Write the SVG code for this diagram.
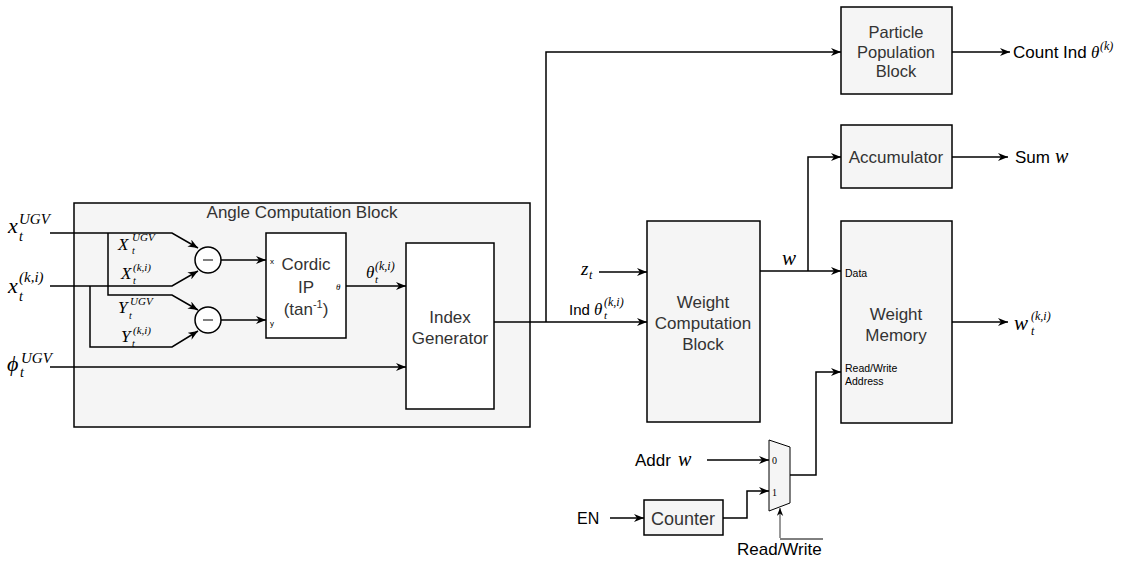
<svg xmlns="http://www.w3.org/2000/svg" width="1127" height="561" viewBox="0 0 1127 561">
<defs>
<marker id="a" viewBox="0 0 10 8" refX="10" refY="4" markerWidth="10" markerHeight="8" markerUnits="userSpaceOnUse" orient="auto"><path d="M0,0 L10,4 L0,8 L3,4 z" fill="#000"/></marker>
<marker id="b" viewBox="0 0 10 8" refX="10" refY="4" markerWidth="8" markerHeight="7" markerUnits="userSpaceOnUse" orient="auto"><path d="M0,0 L10,4 L0,8 L3,4 z" fill="#000"/></marker>
</defs>
<style>
.box{fill:#f5f5f5;stroke:#000;stroke-width:1.5}
.wbox{fill:#fff;stroke:#000;stroke-width:1.5}
.t{font-family:"Liberation Sans",Arial,sans-serif;font-size:17px;fill:#333;text-anchor:middle}
.s{font-family:"Liberation Sans",Arial,sans-serif;font-size:10.5px;fill:#000}
.l{font-family:"Liberation Sans",Arial,sans-serif;font-size:17px;fill:#000}
.m{font-family:"Liberation Serif","Times New Roman",serif;font-style:italic;fill:#000}
.n{font-family:"Liberation Serif","Times New Roman",serif;font-size:10px;fill:#000}
.c{fill:none;stroke:#000;stroke-width:1.5}
</style>

<g id="angle-block">
<rect class="box" x="74" y="203" width="456" height="224"/>
<text class="t" x="302" y="218">Angle Computation Block</text>
</g>

<g id="sub1">
<circle cx="208" cy="260" r="13" fill="#fff" stroke="#000" stroke-width="1.5"/>
<line x1="203" y1="260" x2="213" y2="260" stroke="#000" stroke-width="1"/>
</g>
<g id="sub2">
<circle cx="208" cy="320" r="13" fill="#fff" stroke="#000" stroke-width="1.5"/>
<line x1="203" y1="320" x2="213" y2="320" stroke="#000" stroke-width="1"/>
</g>

<g id="cordic">
<rect class="wbox" x="266" y="233" width="80" height="105"/>
<text class="t" x="306" y="270">Cordic</text>
<text class="t" x="306" y="293">IP</text>
<text class="t" x="306" y="315">(tan<tspan style="font-size:11px" dy="-7">-1</tspan><tspan dy="7">)</tspan></text>
<text class="s" x="270" y="264" style="font-size:8px">x</text>
<text class="s" x="270" y="326" style="font-size:8px">y</text>
<text class="m" x="336" y="290" font-size="9">θ</text>
</g>

<g id="index-generator">
<rect class="wbox" x="406" y="243" width="88" height="166"/>
<text class="t" x="450" y="323">Index</text>
<text class="t" x="450" y="344">Generator</text>
</g>

<g id="particle-population">
<rect class="box" x="841" y="7" width="111" height="87"/>
<text class="t" x="896" y="38" style="font-size:16.5px">Particle</text>
<text class="t" x="896" y="58" style="font-size:16.5px">Population</text>
<text class="t" x="896" y="77" style="font-size:16.5px">Block</text>
</g>

<g id="accumulator">
<rect class="box" x="841" y="125" width="111" height="63"/>
<text class="t" x="896" y="163">Accumulator</text>
</g>

<g id="weight-computation">
<rect class="box" x="647" y="221" width="113" height="201"/>
<text class="t" x="703" y="308">Weight</text>
<text class="t" x="703" y="329">Computation</text>
<text class="t" x="703" y="350">Block</text>
</g>

<g id="weight-memory">
<rect class="box" x="841" y="221" width="111" height="202"/>
<text class="t" x="896" y="320">Weight</text>
<text class="t" x="896" y="341">Memory</text>
<text class="s" x="845" y="277">Data</text>
<text class="s" x="845" y="372">Read/Write</text>
<text class="s" x="845" y="385">Address</text>
</g>

<g id="counter">
<rect class="box" x="644" y="500" width="79" height="35"/>
<text class="t" x="683" y="525" style="font-size:18px">Counter</text>
</g>

<g id="mux">
<polygon points="769,440 790,447 790,503 769,511" fill="#f5f5f5" stroke="#000" stroke-width="1"/>
<text class="n" x="772" y="464">0</text>
<text class="n" x="772" y="496">1</text>
</g>

<g id="connectors">
<path class="c" d="M50,233 H172 L198,248" marker-end="url(#a)"/>
<path class="c" d="M108,233 V295 H172 L198,310" marker-end="url(#a)"/>
<path class="c" d="M50,286 H172 L198,271" marker-end="url(#a)"/>
<path class="c" d="M90,286 V347 H172 L198,331" marker-end="url(#a)"/>
<path class="c" d="M221,260 H266" marker-end="url(#a)"/>
<path class="c" d="M221,320 H266" marker-end="url(#a)"/>
<path class="c" d="M346,286 H406" marker-end="url(#a)"/>
<path class="c" d="M50,367 H406" marker-end="url(#a)"/>
<path class="c" d="M494,322 H647" marker-end="url(#a)"/>
<path class="c" d="M546,322 V52 H841" marker-end="url(#a)"/>
<path class="c" d="M952,52 H1010" marker-end="url(#a)"/>
<path class="c" d="M599,272 H647" marker-end="url(#a)"/>
<path class="c" d="M760,271 H841" marker-end="url(#a)"/>
<path class="c" d="M808,271 V157 H841" marker-end="url(#a)"/>
<path class="c" d="M952,157 H1008" marker-end="url(#a)"/>
<path class="c" d="M952,322 H1008" marker-end="url(#a)"/>
<path class="c" d="M707,460 H769" marker-end="url(#a)"/>
<path class="c" d="M610,518 H644" marker-end="url(#a)"/>
<path class="c" d="M723,518 H747 V491 H769" marker-end="url(#a)"/>
<path class="c" d="M790,475 H816 V372 H841" marker-end="url(#a)"/>
<path d="M780,538 V508" fill="none" stroke="#333" stroke-width="1" marker-end="url(#b)"/>
</g>

<g id="labels">
<text class="m" x="8" y="233" font-size="22">x</text>
<text class="m" x="19" y="241" font-size="14">t</text>
<text class="m" x="19" y="224" font-size="15">UGV</text>

<text class="m" x="8" y="293" font-size="22">x</text>
<text class="m" x="19" y="301" font-size="14">t</text>
<text class="m" x="19" y="282" font-size="15">(k,i)</text>

<text class="m" x="7" y="371" font-size="22">ϕ</text>
<text class="m" x="20" y="377" font-size="14">t</text>
<text class="m" x="21" y="363" font-size="15">UGV</text>

<text class="m" x="118" y="250" font-size="17">X</text>
<text class="m" x="132" y="254" font-size="10">t</text>
<text class="m" x="132" y="241" font-size="11">UGV</text>

<text class="m" x="121" y="279" font-size="17">X</text>
<text class="m" x="133" y="284" font-size="10">t</text>
<text class="m" x="133" y="271" font-size="11">(k,i)</text>

<text class="m" x="118" y="313" font-size="17">Y</text>
<text class="m" x="129" y="319" font-size="10">t</text>
<text class="m" x="130" y="305" font-size="11">UGV</text>

<text class="m" x="121" y="342" font-size="17">Y</text>
<text class="m" x="132" y="347" font-size="10">t</text>
<text class="m" x="133" y="334" font-size="11">(k,i)</text>

<text class="m" x="366" y="278" font-size="17">θ</text>
<text class="m" x="375" y="283" font-size="11">t</text>
<text class="m" x="375" y="270" font-size="12">(k,i)</text>

<text class="l" x="569" y="315" style="font-size:15px">Ind</text>
<text class="m" x="594" y="315" font-size="17">θ</text>
<text class="m" x="604" y="319" font-size="11">t</text>
<text class="m" x="604" y="306" font-size="12">(k,i)</text>

<text class="m" x="581" y="275" font-size="19">z</text>
<text class="m" x="589" y="279" font-size="12">t</text>

<text class="m" x="782" y="265" font-size="21">w</text>

<text class="l" x="1013" y="58">Count Ind</text>
<text class="m" x="1091" y="58" font-size="17">θ</text>
<text class="m" x="1100" y="50" font-size="12">(k)</text>

<text class="l" x="1015" y="163">Sum</text>
<text class="m" x="1055" y="163" font-size="20">w</text>

<text class="m" x="1014" y="330" font-size="21">w</text>
<text class="m" x="1031" y="335" font-size="12">t</text>
<text class="m" x="1031" y="320" font-size="12">(k,i)</text>

<text class="l" x="635" y="466">Addr</text>
<text class="m" x="678" y="466" font-size="20">w</text>

<text class="l" x="577" y="524" style="font-size:16px">EN</text>

<text class="l" x="737" y="555">Read/Write</text>
<line x1="780" y1="539" x2="823" y2="539" stroke="#000" stroke-width="1"/>
</g>
</svg>
